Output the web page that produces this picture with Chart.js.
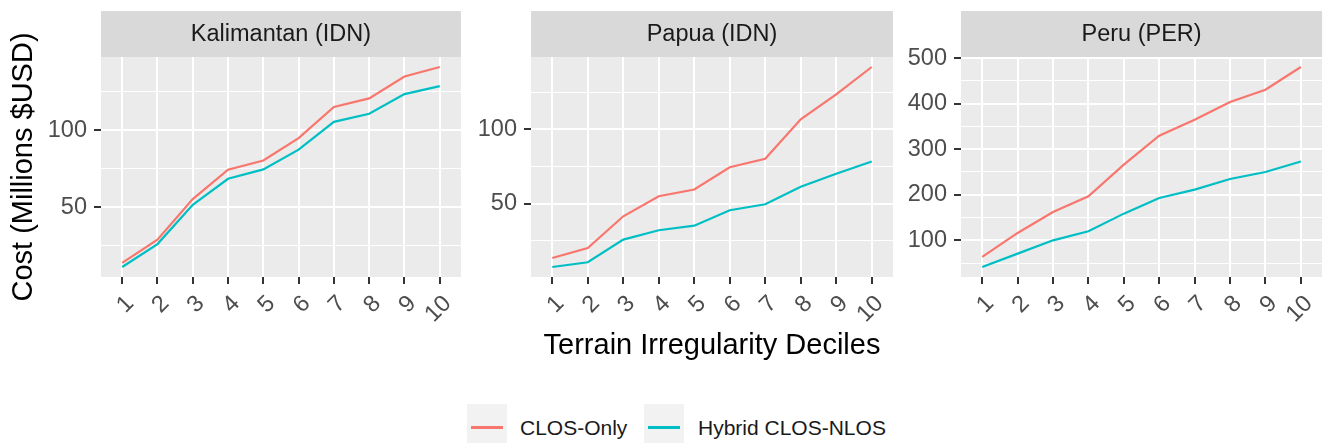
<!DOCTYPE html>
<html>
<head>
<meta charset="utf-8">
<script src="https://cdn.jsdelivr.net/npm/chart.js@4.4.1/dist/chart.umd.min.js"></script>
<style>
body { margin:0; background:#fff; width:1327px; height:443px; overflow:hidden; position:relative; font-family:"Liberation Sans", Arial, sans-serif; }
canvas { position:absolute; top:0; }
.key { position:absolute; top:404px; width:40px; height:40px; background:#F2F2F2; }
.key span { position:absolute; left:4px; top:22px; width:32px; height:3px; }
.lab { position:absolute; top:416px; line-height:24px; font-size:21px; color:#1A1A1A; white-space:nowrap; }
</style>
</head>
<body>
<canvas id="c1" width="466" height="370" style="left:0px"></canvas>
<canvas id="c2" width="432" height="370" style="left:466px"></canvas>
<canvas id="c3" width="429" height="370" style="left:898px"></canvas>
<div id="legend"></div>
<script>
// datos
const deciles = [1, 2, 3, 4, 5, 6, 7, 8, 9, 10];
const decileLabels = ['1', '2', '3', '4', '5', '6', '7', '8', '9', '10'];
const seriesNames = ['CLOS-Only', 'Hybrid CLOS-NLOS'];
const seriesColors = ['#F8766D', '#00BFC4'];

const kalimantanClos = [14, 29, 55.4, 74.5, 80.5, 95, 115.2, 120.8, 135, 141.2];
const kalimantanHybrid = [11.3, 26.2, 51.7, 68.6, 74.7, 87.5, 105.6, 110.8, 123.6, 128.8];
const papuaClos = [13.3, 20, 41.4, 54.9, 59.5, 74.5, 80.2, 106.8, 123.6, 142.1];
const papuaHybrid = [7.2, 10.4, 25.7, 32, 35.1, 45.5, 49.5, 61.3, 70.1, 78.4];
const peruClos = [63.6, 116.2, 162.3, 196.5, 266, 329.6, 364.7, 403.5, 430.5, 480.3];
const peruHybrid = [41.5, 70.8, 100, 119.8, 158.6, 193, 211.2, 234.6, 250, 273];

const idnMajor = [50, 100];
const idnMinor = [25, 75, 125];
const peruMajor = [100, 200, 300, 400, 500];
const peruMinor = [50, 150, 250, 350, 450];

const FONT = '"Liberation Sans", Arial, sans-serif';

// fondo gris del panel y la franja con el titulo
const panelPlugin = {
    id: 'panel',
    beforeDraw(chart, args, o) {
        const ctx = chart.ctx;
        const a = chart.chartArea;
        ctx.save();
        ctx.fillStyle = '#EBEBEB';
        ctx.fillRect(a.left, a.top, a.right - a.left, a.bottom - a.top);
        ctx.fillStyle = '#D9D9D9';
        ctx.fillRect(a.left, 11, a.right - a.left, a.top - 11);
        ctx.fillStyle = '#1A1A1A';
        ctx.font = '23.5px ' + FONT;
        ctx.textAlign = 'center';
        ctx.textBaseline = 'middle';
        ctx.fillText(o.text, (a.left + a.right) / 2, (11 + a.top) / 2 + 1);
        ctx.restore();
    }
};

function crearPanel(id, titulo, clos, hybrid, major, minor, cfg) {
    const all = clos.concat(hybrid);
    const lo = Math.min(...all), hi = Math.max(...all);
    const pad = (hi - lo) * 0.05;
    const yTicks = major.concat(minor).sort((a, b) => a - b);

    const toPts = arr => arr.map((v, i) => ({ x: deciles[i], y: v }));

    return new Chart(document.getElementById(id), {
        type: 'line',
        data: {
            datasets: [
                { label: seriesNames[0], data: toPts(clos), borderColor: seriesColors[0], borderWidth: 2.2, pointRadius: 0, tension: 0 },
                { label: seriesNames[1], data: toPts(hybrid), borderColor: seriesColors[1], borderWidth: 2.2, pointRadius: 0, tension: 0 }
            ]
        },
        options: {
            responsive: false,
            animation: false,
            layout: { padding: { top: 57, right: cfg.padRight, bottom: 0, left: 0 } },
            plugins: {
                legend: { display: false },
                tooltip: { enabled: false },
                panel: { text: titulo }
            },
            scales: {
                x: {
                    type: 'linear',
                    min: 0.4,
                    max: 10.6,
                    afterBuildTicks: s => { s.ticks = deciles.map(v => ({ value: v })); },
                    afterFit: s => { s.height = 93; },
                    ticks: {
                        autoSkip: false,
                        minRotation: 45,
                        maxRotation: 45,
                        labelOffset: 8,
                        padding: 6,
                        color: '#4D4D4D',
                        font: { size: 23.5, family: FONT },
                        callback: (v, i) => decileLabels[i]
                    },
                    grid: { color: '#FFFFFF', lineWidth: 2, tickColor: '#333333', tickLength: 7, tickWidth: 2 },
                    border: { display: false },
                    title: {
                        display: !!cfg.xTitle,
                        text: cfg.xTitle || '',
                        color: '#000000',
                        font: { size: 29, family: FONT },
                        padding: { top: 0, bottom: 6.5 }
                    }
                },
                y: {
                    type: 'linear',
                    min: lo - pad,
                    max: hi + pad,
                    afterBuildTicks: s => { s.ticks = yTicks.map(v => ({ value: v })); },
                    afterFit: s => { s.width = cfg.yWidth; },
                    ticks: {
                        autoSkip: false,
                        padding: 7,
                        color: '#4D4D4D',
                        font: { size: 23.5, family: FONT },
                        callback: v => major.includes(v) ? String(v) : ''
                    },
                    grid: {
                        color: '#FFFFFF',
                        lineWidth: c => major.includes(c.tick.value) ? 2 : 1,
                        tickColor: c => major.includes(c.tick.value) ? '#333333' : 'rgba(0,0,0,0)',
                        tickLength: 7,
                        tickWidth: 2
                    },
                    border: { display: false },
                    title: {
                        display: !!cfg.yTitle,
                        text: cfg.yTitle || '',
                        color: '#000000',
                        font: { size: 29, family: FONT },
                        padding: { top: 6.5, bottom: 0 }
                    }
                }
            }
        },
        plugins: [panelPlugin]
    });
}

crearPanel('c1', 'Kalimantan (IDN)', kalimantanClos, kalimantanHybrid, idnMajor, idnMinor,
    { yWidth: 101, padRight: 5, yTitle: 'Cost (Millions $USD)' });
crearPanel('c2', 'Papua (IDN)', papuaClos, papuaHybrid, idnMajor, idnMinor,
    { yWidth: 65, padRight: 5, xTitle: 'Terrain Irregularity Deciles' });
crearPanel('c3', 'Peru (PER)', peruClos, peruHybrid, peruMajor, peruMinor,
    { yWidth: 63, padRight: 4 });

// leyenda
const legend = document.getElementById('legend');
const keyLeft = [467, 644];
const labLeft = [520, 698];
for (let i = 0; i < seriesNames.length; i++) {
    const key = document.createElement('div');
    key.className = 'key';
    key.style.left = keyLeft[i] + 'px';
    const line = document.createElement('span');
    line.style.background = seriesColors[i];
    key.appendChild(line);
    legend.appendChild(key);

    const lab = document.createElement('div');
    lab.className = 'lab';
    lab.style.left = labLeft[i] + 'px';
    lab.textContent = seriesNames[i];
    legend.appendChild(lab);
}
</script>
</body>
</html>
